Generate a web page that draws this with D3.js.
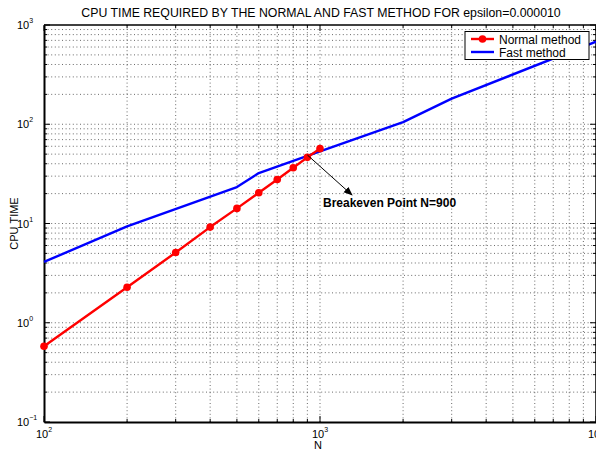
<!DOCTYPE html>
<html>
<head>
<meta charset="utf-8">
<script src="https://cdn.jsdelivr.net/npm/d3@7"></script>
<style>
  html, body { margin: 0; padding: 0; background: #fff; }
  svg { display: block; font-family: "Liberation Sans", Arial, Helvetica, sans-serif; }
</style>
</head>
<body>
<svg id="chart" width="596" height="451"></svg>
<script>
// Problem sizes N
const normalN = [100, 200, 300, 400, 500, 600, 700, 800, 900, 1000];
// CPU time of the normal method
const normalTime = [0.58, 2.28, 5.1, 9.2, 14.2, 20.4, 27.8, 36.5, 46.4, 56.8];
// Problem sizes for the fast method
const fastN = [100, 200, 500, 600, 1000, 2000, 3000, 10000];
// CPU time of the fast method
const fastTime = [4.1, 9.35, 23.3, 32.2, 53.3, 105, 181, 680];

const xMajor = [100, 1000, 10000];
const yMajor = [0.1, 1, 10, 100, 1000];
const xExponents = ["2", "3", "4"];
const yExponents = ["\u22121", "0", "1", "2", "3"];

const titleText = "CPU TIME REQUIRED BY THE NORMAL AND FAST METHOD FOR epsilon=0.000010";
const xLabel = "N";
const yLabel = "CPU TIME";
const seriesNames = ["Normal method", "Fast method"];
const noteText = "Breakeven Point N=900";
const breakevenN = 900;

const svg = d3.select("#chart");
const mLeft = 44, mRight = 596, mTop = 25, mBottom = 422;

const x = d3.scaleLog().domain([100, 10000]).range([mLeft, mRight]);
const y = d3.scaleLog().domain([0.1, 1000]).range([mBottom, mTop]);

// minor + major tick values across each decade
function decadeTicks(lo, hi) {
  const out = [];
  for (let p = lo; p < hi * 0.999; p *= 10) {
    for (let k = 1; k <= 9; k++) out.push(p * k);
  }
  out.push(hi);
  return out;
}
const xAll = decadeTicks(100, 10000);
const yAll = decadeTicks(0.1, 1000);

// dotted grid
const grid = svg.append("g").attr("stroke", "#444").attr("stroke-width", 0.8)
  .attr("stroke-dasharray", "1,2.6");
grid.selectAll("line.gx").data(xAll.filter(v => v > 101 && v < 9999)).join("line")
  .attr("class", "gx")
  .attr("x1", d => x(d)).attr("x2", d => x(d)).attr("y1", mTop).attr("y2", mBottom);
grid.selectAll("line.gy").data(yAll.filter(v => v > 0.101 && v < 999)).join("line")
  .attr("class", "gy")
  .attr("y1", d => y(d)).attr("y2", d => y(d)).attr("x1", mLeft).attr("x2", mRight);

// tick marks on all four sides, pointing inward
function isMajor(v) { return Math.abs(Math.log10(v) - Math.round(Math.log10(v))) < 1e-6; }
const ticks = svg.append("g").attr("stroke", "#000").attr("stroke-width", 1);
xAll.forEach(v => {
  const len = isMajor(v) ? 6 : 3;
  ticks.append("line").attr("x1", x(v)).attr("x2", x(v)).attr("y1", mBottom).attr("y2", mBottom - len);
  ticks.append("line").attr("x1", x(v)).attr("x2", x(v)).attr("y1", mTop).attr("y2", mTop + len);
});
yAll.forEach(v => {
  const len = isMajor(v) ? 6 : 3;
  ticks.append("line").attr("y1", y(v)).attr("y2", y(v)).attr("x1", mLeft).attr("x2", mLeft + len);
  ticks.append("line").attr("y1", y(v)).attr("y2", y(v)).attr("x1", mRight).attr("x2", mRight - len);
});

// axes frame through d3 axes (labels drawn separately with superscripts)
svg.append("g").attr("transform", `translate(0,${mBottom})`)
  .call(d3.axisBottom(x).tickValues([]).tickSizeOuter(0))
  .call(g => g.select(".domain").attr("stroke-width", 2));
svg.append("g").attr("transform", `translate(${mLeft},0)`)
  .call(d3.axisLeft(y).tickValues([]).tickSizeOuter(0))
  .call(g => g.select(".domain").attr("stroke-width", 2));
svg.append("line").attr("x1", mLeft).attr("x2", mRight).attr("y1", mTop).attr("y2", mTop)
  .attr("stroke", "#000").attr("stroke-width", 1.5);
svg.append("line").attr("x1", mRight).attr("x2", mRight).attr("y1", mTop).attr("y2", mBottom)
  .attr("stroke", "#000").attr("stroke-width", 1.5);

// tick labels: 10 with superscript exponent
xMajor.forEach((v, i) => {
  const t = svg.append("text").attr("x", x(v) - 8).attr("y", mBottom + 16)
    .attr("font-size", 11).attr("fill", "#000");
  t.append("tspan").text("10");
  t.append("tspan").attr("font-size", 7).attr("dy", -6).text(xExponents[i]);
});
yMajor.forEach((v, i) => {
  const t = svg.append("text").attr("x", mLeft - 27).attr("y", y(v) + 4)
    .attr("font-size", 11).attr("fill", "#000");
  t.append("tspan").text("10");
  t.append("tspan").attr("font-size", 7).attr("dy", -6).text(yExponents[i]);
});

// axis titles and chart title
svg.append("text").attr("x", (mLeft + mRight) / 2 + 1).attr("y", 17).attr("text-anchor", "middle")
  .attr("font-size", 12.3).text(titleText);
svg.append("text").attr("x", x(1000) - 2).attr("y", 449).attr("text-anchor", "middle")
  .attr("font-size", 11).text(xLabel);
svg.append("text").attr("transform", `translate(18,${y(10)}) rotate(-90)`)
  .attr("text-anchor", "middle").attr("font-size", 11).text(yLabel);

// series
const line = d3.line().x(d => x(d[0])).y(d => y(d[1]));
const normalPts = normalN.map((n, i) => [n, normalTime[i]]);
const fastPts = fastN.map((n, i) => [n, fastTime[i]]);

svg.append("path").datum(fastPts).attr("d", line).attr("fill", "none")
  .attr("stroke", "#0000ff").attr("stroke-width", 2.4).attr("stroke-linejoin", "round");
svg.append("path").datum(normalPts).attr("d", line).attr("fill", "none")
  .attr("stroke", "#ff0000").attr("stroke-width", 2.4).attr("stroke-linejoin", "round");
svg.selectAll("circle.pt").data(normalPts).join("circle").attr("class", "pt")
  .attr("cx", d => x(d[0])).attr("cy", d => y(d[1])).attr("r", 3.8).attr("fill", "#ff0000");

// breakeven annotation: arrow from the crossing down to the note
const defs = svg.append("defs");
defs.append("marker").attr("id", "arrow").attr("viewBox", "0 0 10 10")
  .attr("refX", 9).attr("refY", 5).attr("markerWidth", 9).attr("markerHeight", 9)
  .attr("orient", "auto").attr("markerUnits", "userSpaceOnUse")
  .append("path").attr("d", "M0,1 L10,5 L0,9 Z").attr("fill", "#000");
const crossY = y(49);
svg.append("line").attr("x1", x(breakevenN)).attr("y1", crossY)
  .attr("x2", 352).attr("y2", 195)
  .attr("stroke", "#000").attr("stroke-width", 1).attr("marker-end", "url(#arrow)");
svg.append("text").attr("x", 323).attr("y", 207).attr("font-size", 12)
  .attr("font-weight", "bold").text(noteText);

// legend
const lg = svg.append("g");
lg.append("rect").attr("x", 465).attr("y", 31.5).attr("width", 124).attr("height", 28)
  .attr("fill", "#fff").attr("stroke", "#000").attr("stroke-width", 1);
lg.append("line").attr("x1", 471).attr("x2", 494).attr("y1", 39).attr("y2", 39)
  .attr("stroke", "#ff0000").attr("stroke-width", 2.4);
lg.append("circle").attr("cx", 482.5).attr("cy", 39).attr("r", 3.8).attr("fill", "#ff0000");
lg.append("line").attr("x1", 471).attr("x2", 494).attr("y1", 52).attr("y2", 52)
  .attr("stroke", "#0000ff").attr("stroke-width", 2.4);
lg.append("text").attr("x", 499).attr("y", 43.5).attr("font-size", 12).text(seriesNames[0]);
lg.append("text").attr("x", 499).attr("y", 56.5).attr("font-size", 12).text(seriesNames[1]);
</script>
</body>
</html>
